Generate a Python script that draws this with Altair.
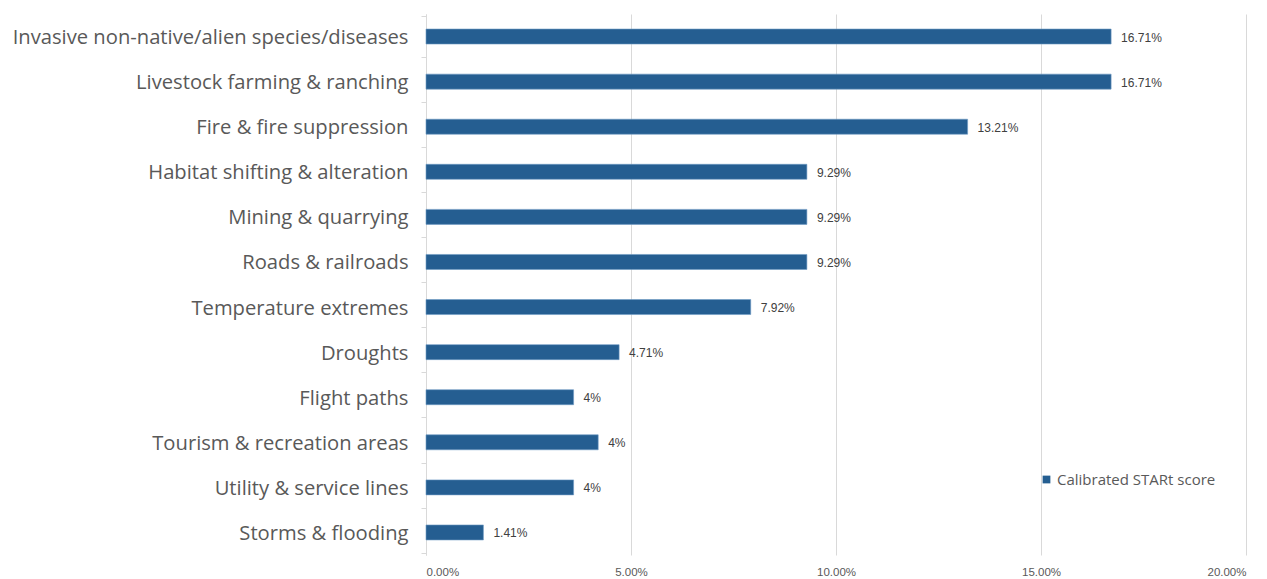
import altair as alt
import pandas as pd

categories = [
    "Invasive non-native/alien species/diseases",
    "Livestock farming & ranching",
    "Fire & fire suppression",
    "Habitat shifting & alteration",
    "Mining & quarrying",
    "Roads & railroads",
    "Temperature extremes",
    "Droughts",
    "Flight paths",
    "Tourism & recreation areas",
    "Utility & service lines",
    "Storms & flooding",
]
# bar lengths as drawn (fraction)
bar_values = [0.1671, 0.1671, 0.1321, 0.0929, 0.0929, 0.0929, 0.0792, 0.0471, 0.036, 0.042, 0.036, 0.014]
value_labels = ["16.71%", "16.71%", "13.21%", "9.29%", "9.29%", "9.29%", "7.92%", "4.71%", "4%", "4%", "4%", "1.41%"]
series_name = "Calibrated STARt score"
x_ticks = [0, 0.05, 0.10, 0.15, 0.20]

df = pd.DataFrame({
    "category": categories,
    "value": bar_values,
    "label": value_labels,
    "series": [series_name] * len(categories),
})

BLUE = "#255e91"
GRID = "#d9d9d9"
LABEL_FONT = "Open Sans"
NUM_FONT = "Liberation Sans"

y_enc = alt.Y(
    "category:N",
    sort=categories,
    title=None,
    axis=alt.Axis(
        tickBand="extent",
        tickSize=5,
        tickColor=GRID,
        domainColor=GRID,
        labelFont=LABEL_FONT,
        labelFontSize=20.2,
        labelColor="#595959",
        labelPadding=13,
        labelLimit=500,
        labelBaseline="middle",
        labelOffset=1,
        grid=False,
    ),
)

x_enc = alt.X(
    "value:Q",
    title=None,
    scale=alt.Scale(domain=[0, 0.2], nice=False),
    axis=alt.Axis(
        values=x_ticks,
        format=".2%",
        domain=False,
        ticks=False,
        grid=True,
        gridColor=GRID,
        labelFont=NUM_FONT,
        labelFontSize=11.5,
        labelColor="#595959",
        labelPadding=11,
    ),
)

bars = alt.Chart(df).mark_bar(size=15, stroke="#6f9ac4", strokeWidth=0.6).encode(
    y=y_enc,
    x=x_enc,
    color=alt.Color(
        "series:N",
        scale=alt.Scale(range=[BLUE]),
        legend=alt.Legend(
            title=None,
            orient="none",
            legendX=613,
            legendY=458,
            symbolType="square",
            symbolSize=60,
            symbolStrokeWidth=0,
            labelFont=LABEL_FONT,
            labelFontSize=15,
            labelColor="#595959",
            labelOffset=3,
        ),
    ),
)

texts = alt.Chart(df).mark_text(
    align="left", baseline="middle", dx=10, dy=1, font=NUM_FONT, fontSize=12, color="#404040"
).encode(
    y=alt.Y("category:N", sort=categories),
    x=alt.X("value:Q"),
    text="label:N",
)

chart = (
    alt.layer(bars, texts)
    .properties(
        width=820,
        height=541,
        autosize=alt.AutoSizeParams(type="none"),
        padding={"left": 426, "top": 14, "right": 21, "bottom": 24},
        background="white",
    )
    .configure_view(stroke=None)
)

chart.save("out.html", embed_options={"renderer": "svg", "actions": False})
